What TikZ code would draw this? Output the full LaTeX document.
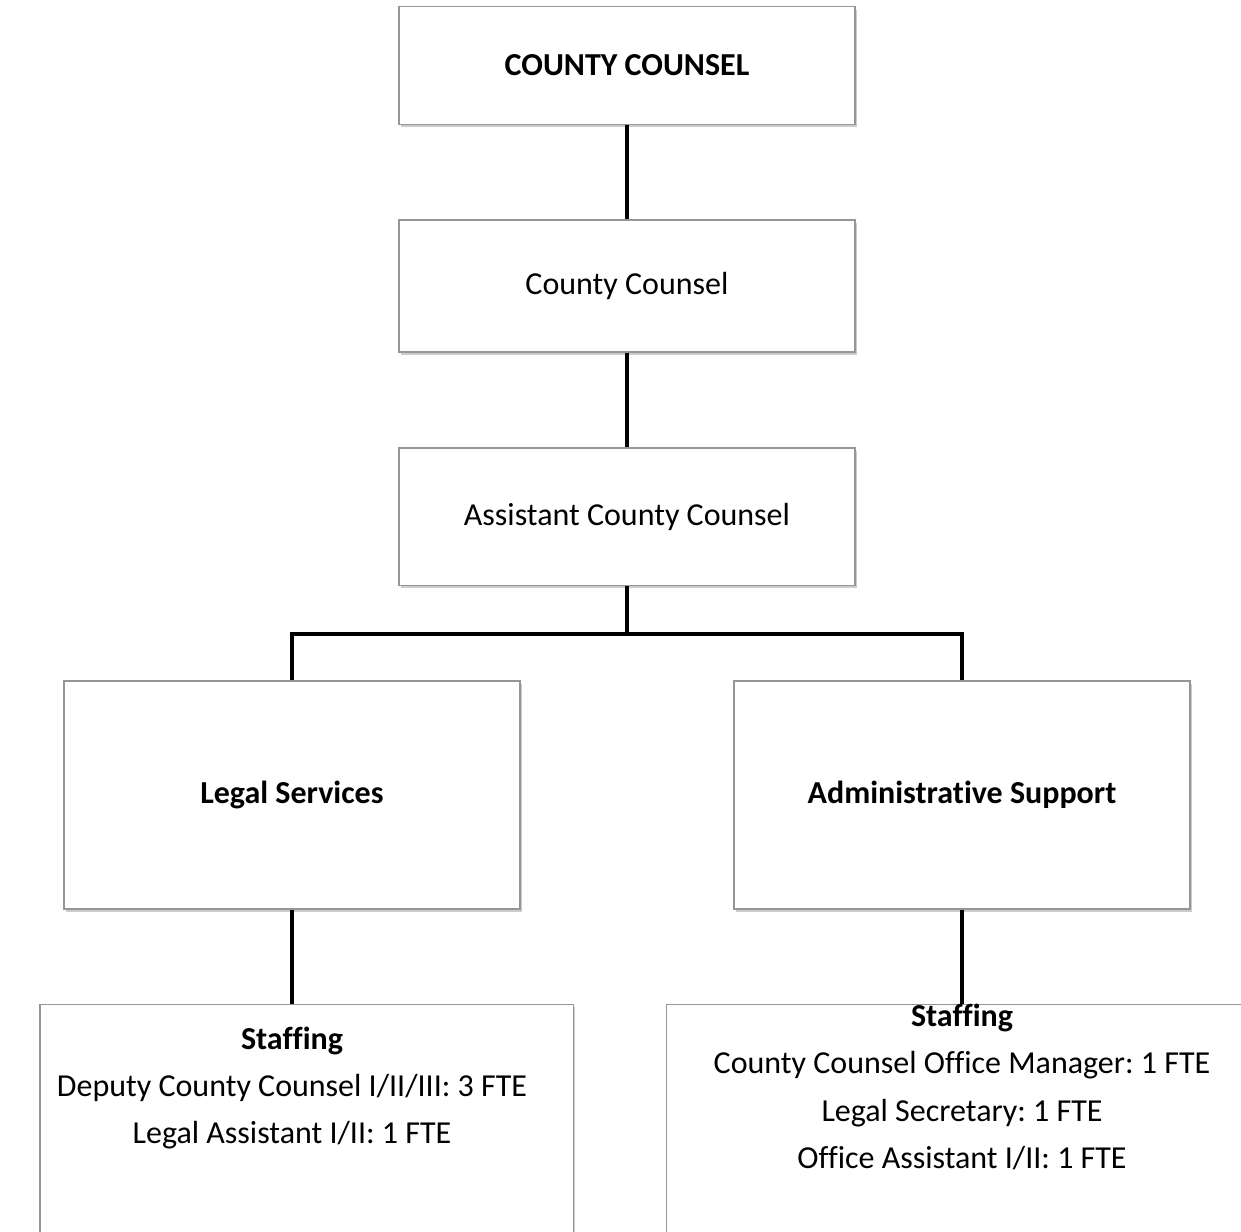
\documentclass[tikz,border=0pt]{standalone}
\usepackage{fontspec}
\setmainfont[Ligatures=NoCommon]{Carlito}
\usetikzlibrary{shadows}

\tikzset{every picture/.style={line width=0.75pt}}
\tikzset{
  orgbox/.style={draw={rgb,255:red,150;green,150;blue,150}, line width=1pt, fill=white,
    drop shadow={shadow xshift=1.5pt, shadow yshift=-2.2pt, opacity=0.4},
    minimum width=342pt, inner sep=0pt, align=center, font=\fontsize{24}{28}\selectfont},
  stafftext/.style={inner sep=0pt, align=center, font=\fontsize{24}{35.5}\selectfont},
  link/.style={line width=3pt}
}

\begin{document}
\frenchspacing
\begin{tikzpicture}[x=0.75pt,y=0.75pt,yscale=-1,xscale=1]
\useasboundingbox (0,0) rectangle (1241,1231);

% Boxes
\node [orgbox, minimum height=88pt] (head) at (627,65.5) {\textbf{COUNTY COUNSEL}};
\node [orgbox, minimum height=99pt] (cc) at (627,286) {County Counsel};
\node [orgbox, minimum height=103pt] (acc) at (627,516.5) {Assistant County Counsel};
\node [orgbox, minimum height=171pt] (legal) at (292,795) {\textbf{Legal Services}};
\node [orgbox, minimum height=171pt] (admin) at (962,795) {\textbf{Administrative Support}};
% Staffing boxes (run off the page)
\node [orgbox, minimum width=400pt, minimum height=190pt] (lstaff) at (306.5,1131) {};
\node [orgbox, minimum width=445pt, minimum height=190pt] (rstaff) at (963,1131) {};

% Text Node
\node [stafftext] (ltext) at (292,1088) {\textbf{Staffing}\\Deputy County Counsel I/II/III: 3 FTE\\Legal Assistant I/II: 1 FTE};
% Text Node
\node [stafftext] (rtext) at (962,1087) {\textbf{Staffing}\\County Counsel Office Manager: 1 FTE\\Legal Secretary: 1 FTE\\Office Assistant I/II: 1 FTE};

% Connectors
\coordinate (split) at (627,634);
\draw [link] (head.south) -- (cc.north);
\draw [link] (cc.south) -- (acc.north);
\draw [link] (acc.south) -- (split);
\draw [link] (legal.north) |- (split) -| (admin.north);
\draw [link] (legal.south) -- (legal.south |- lstaff.north);
\draw [link] (admin.south) -- (admin.south |- rstaff.north);

\end{tikzpicture}
\end{document}
